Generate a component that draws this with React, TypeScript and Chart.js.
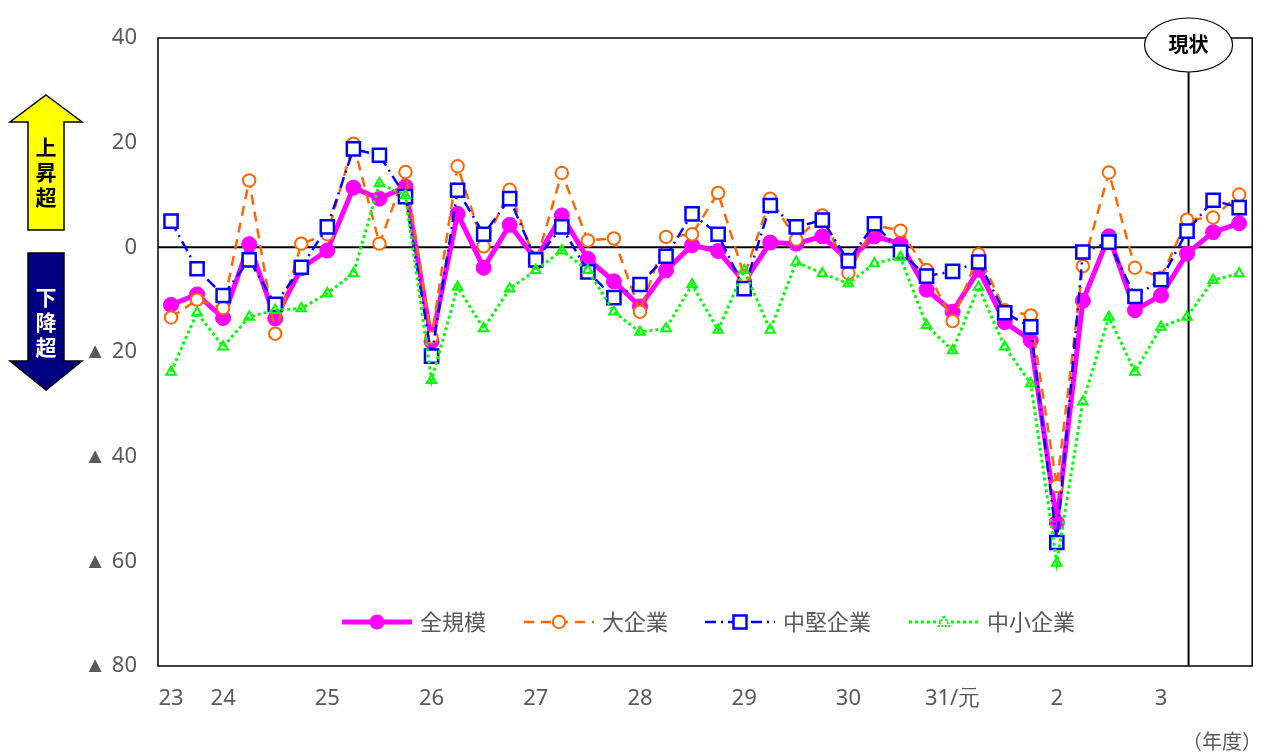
import React, { useEffect, useRef } from 'react';
import { Chart, registerables } from 'chart.js';

Chart.register(...registerables);

// x-axis tick labels (fiscal year, quarterly points)
const xLabels: string[] = [
  '23', '', '24', '', '', '', '25', '', '', '',
  '26', '', '', '', '27', '', '', '', '28', '',
  '', '', '29', '', '', '', '30', '', '', '',
  '31/元', '', '', '', '2', '', '', '', '3', '',
  '', '',
];

const seriesNames = ['全規模', '大企業', '中堅企業', '中小企業'];

const allScale: number[] = [
  -11, -9, -13.5, 0.6, -13.6, -4.0, -0.6, 11.4, 9.3, 11.6,
  -18, 6.4, -3.9, 4.3, -2.3, 6.1, -2.2, -6.5, -11.3, -4.4,
  0.4, -0.7, -6.6, 0.9, 0.7, 2.1, -2.5, 2.1, 0.7, -8.1,
  -12.3, -4.3, -14.3, -17.8, -52.6, -10.2, 2.1, -12.0, -9.2, -1.2,
  2.9, 4.6,
];

const largeCorp: number[] = [
  -13.4, -10.0, -11.6, 12.8, -16.5, 0.7, 2.5, 19.8, 0.7, 14.4,
  -17.2, 15.5, 0.2, 11.0, -3.0, 14.2, 1.3, 1.7, -12.3, 2.0,
  2.5, 10.4, -5.5, 9.3, 1.5, 6.1, -4.9, 4.2, 3.2, -4.3,
  -14.1, -1.3, -12.0, -13.0, -45.6, -3.6, 14.3, -3.9, -5.8, 5.3,
  5.7, 10.1,
];

const midCorp: number[] = [
  5.0, -4.1, -9.2, -2.4, -10.9, -3.8, 3.9, 18.8, 17.6, 9.7,
  -20.8, 10.9, 2.5, 9.3, -2.4, 3.9, -4.7, -9.6, -7.1, -1.7,
  6.4, 2.5, -7.9, 8.0, 3.9, 5.2, -2.6, 4.5, -0.9, -5.5,
  -4.6, -2.8, -12.5, -15.2, -56.4, -0.9, 1.0, -9.4, -6.2, 3.1,
  9.0, 7.6,
];

const smallCorp: number[] = [
  -23.8, -12.5, -19.0, -13.3, -12.0, -11.7, -8.8, -5.0, 12.2, 9.9,
  -25.4, -7.6, -15.5, -7.9, -4.4, -0.6, -4.4, -12.3, -16.2, -15.5,
  -7.1, -15.8, -4.4, -15.8, -2.8, -5.0, -6.9, -3.1, -1.9, -14.9,
  -19.7, -7.6, -19.0, -26.0, -60.3, -29.5, -13.3, -23.8, -15.2, -13.3,
  -6.3, -5.0,
];

const yTicks: number[] = [40, 20, 0, -20, -40, -60, -80];
const currentIndex = 39; // 現状

const MAGENTA = '#FF00FF';
const ORANGE = '#FF6600';
const BLUE = '#0000FF';
const GREEN = '#00FF00';
const GRAY = '#595959';
const NUM_FONT = '"Liberation Sans Narrow", "Noto Sans", sans-serif';
const CJK_FONT = '"Noto Sans CJK JP", "Noto Sans", sans-serif';

const yTickLabel = (v: number) => (v < 0 ? '▲ ' + Math.abs(v) : String(v));

function drawPoly(ctx: CanvasRenderingContext2D, pts: number[][], fill: string) {
  ctx.beginPath();
  ctx.moveTo(pts[0][0], pts[0][1]);
  for (let i = 1; i < pts.length; i++) ctx.lineTo(pts[i][0], pts[i][1]);
  ctx.closePath();
  ctx.fillStyle = fill;
  ctx.fill();
  ctx.strokeStyle = '#000';
  ctx.lineWidth = 1.5;
  ctx.stroke();
}

const decoPlugin = {
  id: 'deco',
  beforeDraw(chart: any) {
    const { ctx, width, height } = chart;
    ctx.save();
    ctx.fillStyle = '#fff';
    ctx.fillRect(0, 0, width, height);
    ctx.restore();
  },
  beforeDatasetsDraw(chart: any) {
    const { ctx, chartArea, scales } = chart;
    const { left, right, top, bottom } = chartArea;
    ctx.save();
    ctx.strokeStyle = '#000';
    ctx.lineWidth = 1.5;
    ctx.strokeRect(left, top, right - left, bottom - top);
    const y0 = scales.y.getPixelForValue(0);
    ctx.lineWidth = 2;
    ctx.beginPath();
    ctx.moveTo(left, y0);
    ctx.lineTo(right, y0);
    ctx.stroke();
    const xc = scales.x.getPixelForValue(currentIndex) + 1.5;
    ctx.beginPath();
    ctx.moveTo(xc, top);
    ctx.lineTo(xc, bottom);
    ctx.stroke();
    ctx.restore();
  },
  afterDraw(chart: any) {
    const { ctx, chartArea, scales } = chart;
    ctx.save();

    // 現状 ellipse
    const xc = scales.x.getPixelForValue(currentIndex) + 1.5;
    ctx.beginPath();
    ctx.ellipse(xc, chartArea.top + 7, 44, 27, 0, 0, Math.PI * 2);
    ctx.fillStyle = '#fff';
    ctx.fill();
    ctx.strokeStyle = '#000';
    ctx.lineWidth = 1.2;
    ctx.stroke();
    ctx.fillStyle = '#000';
    ctx.font = `bold 20px ${CJK_FONT}`;
    ctx.textAlign = 'center';
    ctx.textBaseline = 'middle';
    ctx.fillText('現状', xc, chartArea.top + 6);

    // arrows
    drawPoly(ctx, [[46, 95], [82, 122], [64, 122], [64, 230], [28, 230], [28, 122], [10, 122]], '#FFFF00');
    drawPoly(ctx, [[28, 253], [64, 253], [64, 361], [82, 361], [46, 390], [10, 361], [28, 361]], '#000080');
    ctx.font = `bold 21px ${CJK_FONT}`;
    ctx.fillStyle = '#000';
    ['上', '昇', '超'].forEach((c, i) => ctx.fillText(c, 46, 147 + i * 25));
    ctx.fillStyle = '#fff';
    ['下', '降', '超'].forEach((c, i) => ctx.fillText(c, 46, 297 + i * 25));

    // (年度)
    ctx.fillStyle = GRAY;
    ctx.font = `20px ${CJK_FONT}`;
    ctx.textAlign = 'right';
    ctx.fillText('（年度）', 1262, 741);

    // legend
    const ly = 622;
    const items = [
      { x: 342, color: MAGENTA, width: 5, dash: [] as number[], marker: 'fcircle' },
      { x: 524, color: ORANGE, width: 2.5, dash: [10, 7], marker: 'circle' },
      { x: 705, color: BLUE, width: 2.5, dash: [11, 5, 2, 5], marker: 'rect' },
      { x: 909, color: GREEN, width: 3, dash: [3, 3], marker: 'tri' },
    ];
    items.forEach((it, i) => {
      ctx.save();
      ctx.strokeStyle = it.color;
      ctx.lineWidth = it.width;
      ctx.setLineDash(it.dash);
      ctx.beginPath();
      ctx.moveTo(it.x, ly);
      ctx.lineTo(it.x + 70, ly);
      ctx.stroke();
      ctx.setLineDash([]);
      const mx = it.x + 35;
      ctx.lineWidth = 2;
      if (it.marker === 'fcircle') {
        ctx.beginPath();
        ctx.arc(mx, ly, 7.5, 0, Math.PI * 2);
        ctx.fillStyle = it.color;
        ctx.fill();
      } else if (it.marker === 'circle') {
        ctx.beginPath();
        ctx.arc(mx, ly, 6.2, 0, Math.PI * 2);
        ctx.fillStyle = '#fff';
        ctx.fill();
        ctx.stroke();
      } else if (it.marker === 'rect') {
        ctx.fillStyle = '#fff';
        ctx.fillRect(mx - 6.5, ly - 6.5, 13, 13);
        ctx.lineWidth = 2.5;
        ctx.strokeRect(mx - 6.5, ly - 6.5, 13, 13);
      } else {
        ctx.beginPath();
        ctx.moveTo(mx, ly - 6);
        ctx.lineTo(mx + 5.5, ly + 4);
        ctx.lineTo(mx - 5.5, ly + 4);
        ctx.closePath();
        ctx.fillStyle = '#fff';
        ctx.fill();
        ctx.setLineDash([2, 1.5]);
        ctx.stroke();
      }
      ctx.restore();
      ctx.fillStyle = GRAY;
      ctx.font = `22px ${CJK_FONT}`;
      ctx.textAlign = 'left';
      ctx.textBaseline = 'middle';
      ctx.fillText(seriesNames[i], it.x + 78, ly);
    });

    ctx.restore();
  },
};

export default function App() {
  const canvasRef = useRef<HTMLCanvasElement | null>(null);

  useEffect(() => {
    document.body.style.margin = '0';
    const canvas = canvasRef.current;
    if (!canvas) return;
    const chart = new Chart(canvas, {
      type: 'line',
      data: {
        labels: xLabels,
        datasets: [
          {
            label: seriesNames[0],
            data: allScale,
            borderColor: MAGENTA,
            backgroundColor: MAGENTA,
            borderWidth: 5,
            pointRadius: 7.5,
            pointBackgroundColor: MAGENTA,
            pointBorderColor: MAGENTA,
            pointBorderWidth: 1,
            tension: 0,
            order: 4,
          },
          {
            label: seriesNames[1],
            data: largeCorp,
            borderColor: ORANGE,
            borderWidth: 2.5,
            borderDash: [10, 7],
            pointStyle: 'circle',
            pointRadius: 6.2,
            pointBackgroundColor: '#fff',
            pointBorderColor: ORANGE,
            pointBorderWidth: 2,
            tension: 0,
            order: 3,
          },
          {
            label: seriesNames[2],
            data: midCorp,
            borderColor: BLUE,
            borderWidth: 2.5,
            borderDash: [11, 5, 2, 5],
            pointStyle: 'rect',
            pointRadius: 9.3,
            pointBackgroundColor: '#fff',
            pointBorderColor: BLUE,
            pointBorderWidth: 2.5,
            tension: 0,
            order: 2,
          },
          {
            label: seriesNames[3],
            data: smallCorp,
            borderColor: GREEN,
            borderWidth: 3,
            borderDash: [3, 3],
            pointStyle: 'triangle',
            pointRadius: 5.5,
            pointBackgroundColor: 'rgba(255,255,255,0)',
            pointBorderColor: GREEN,
            pointBorderWidth: 2,
            tension: 0,
            order: 1,
          },
        ],
      },
      options: {
        responsive: false,
        animation: false,
        devicePixelRatio: 1,
        layout: { padding: { top: 38, right: 11, left: 0, bottom: 0 } },
        plugins: {
          legend: { display: false },
          tooltip: { enabled: false },
        },
        scales: {
          x: {
            type: 'category',
            offset: true,
            grid: { display: false, drawTicks: false },
            border: { display: false },
            ticks: {
              autoSkip: false,
              maxRotation: 0,
              minRotation: 0,
              padding: 20,
              color: GRAY,
              font: { family: NUM_FONT, size: 22 },
              callback: (_v: any, i: number) => xLabels[i],
            },
            afterFit: (scale: any) => {
              scale.height = 87;
            },
          },
          y: {
            min: -80,
            max: 40,
            grid: { display: false, drawTicks: false },
            border: { display: false },
            afterBuildTicks: (scale: any) => {
              scale.ticks = yTicks.map((v) => ({ value: v }));
            },
            ticks: {
              padding: 21,
              color: GRAY,
              font: { family: NUM_FONT, size: 22 },
              callback: (v: any) => yTickLabel(Number(v)),
            },
            afterFit: (scale: any) => {
              scale.width = 158;
            },
          },
        },
      },
      plugins: [decoPlugin],
    });
    return () => chart.destroy();
  }, []);

  return (
    <div style={{ width: 1264, height: 753, position: 'relative' }}>
      <canvas ref={canvasRef} width={1264} height={753} style={{ display: 'block' }} />
    </div>
  );
}
